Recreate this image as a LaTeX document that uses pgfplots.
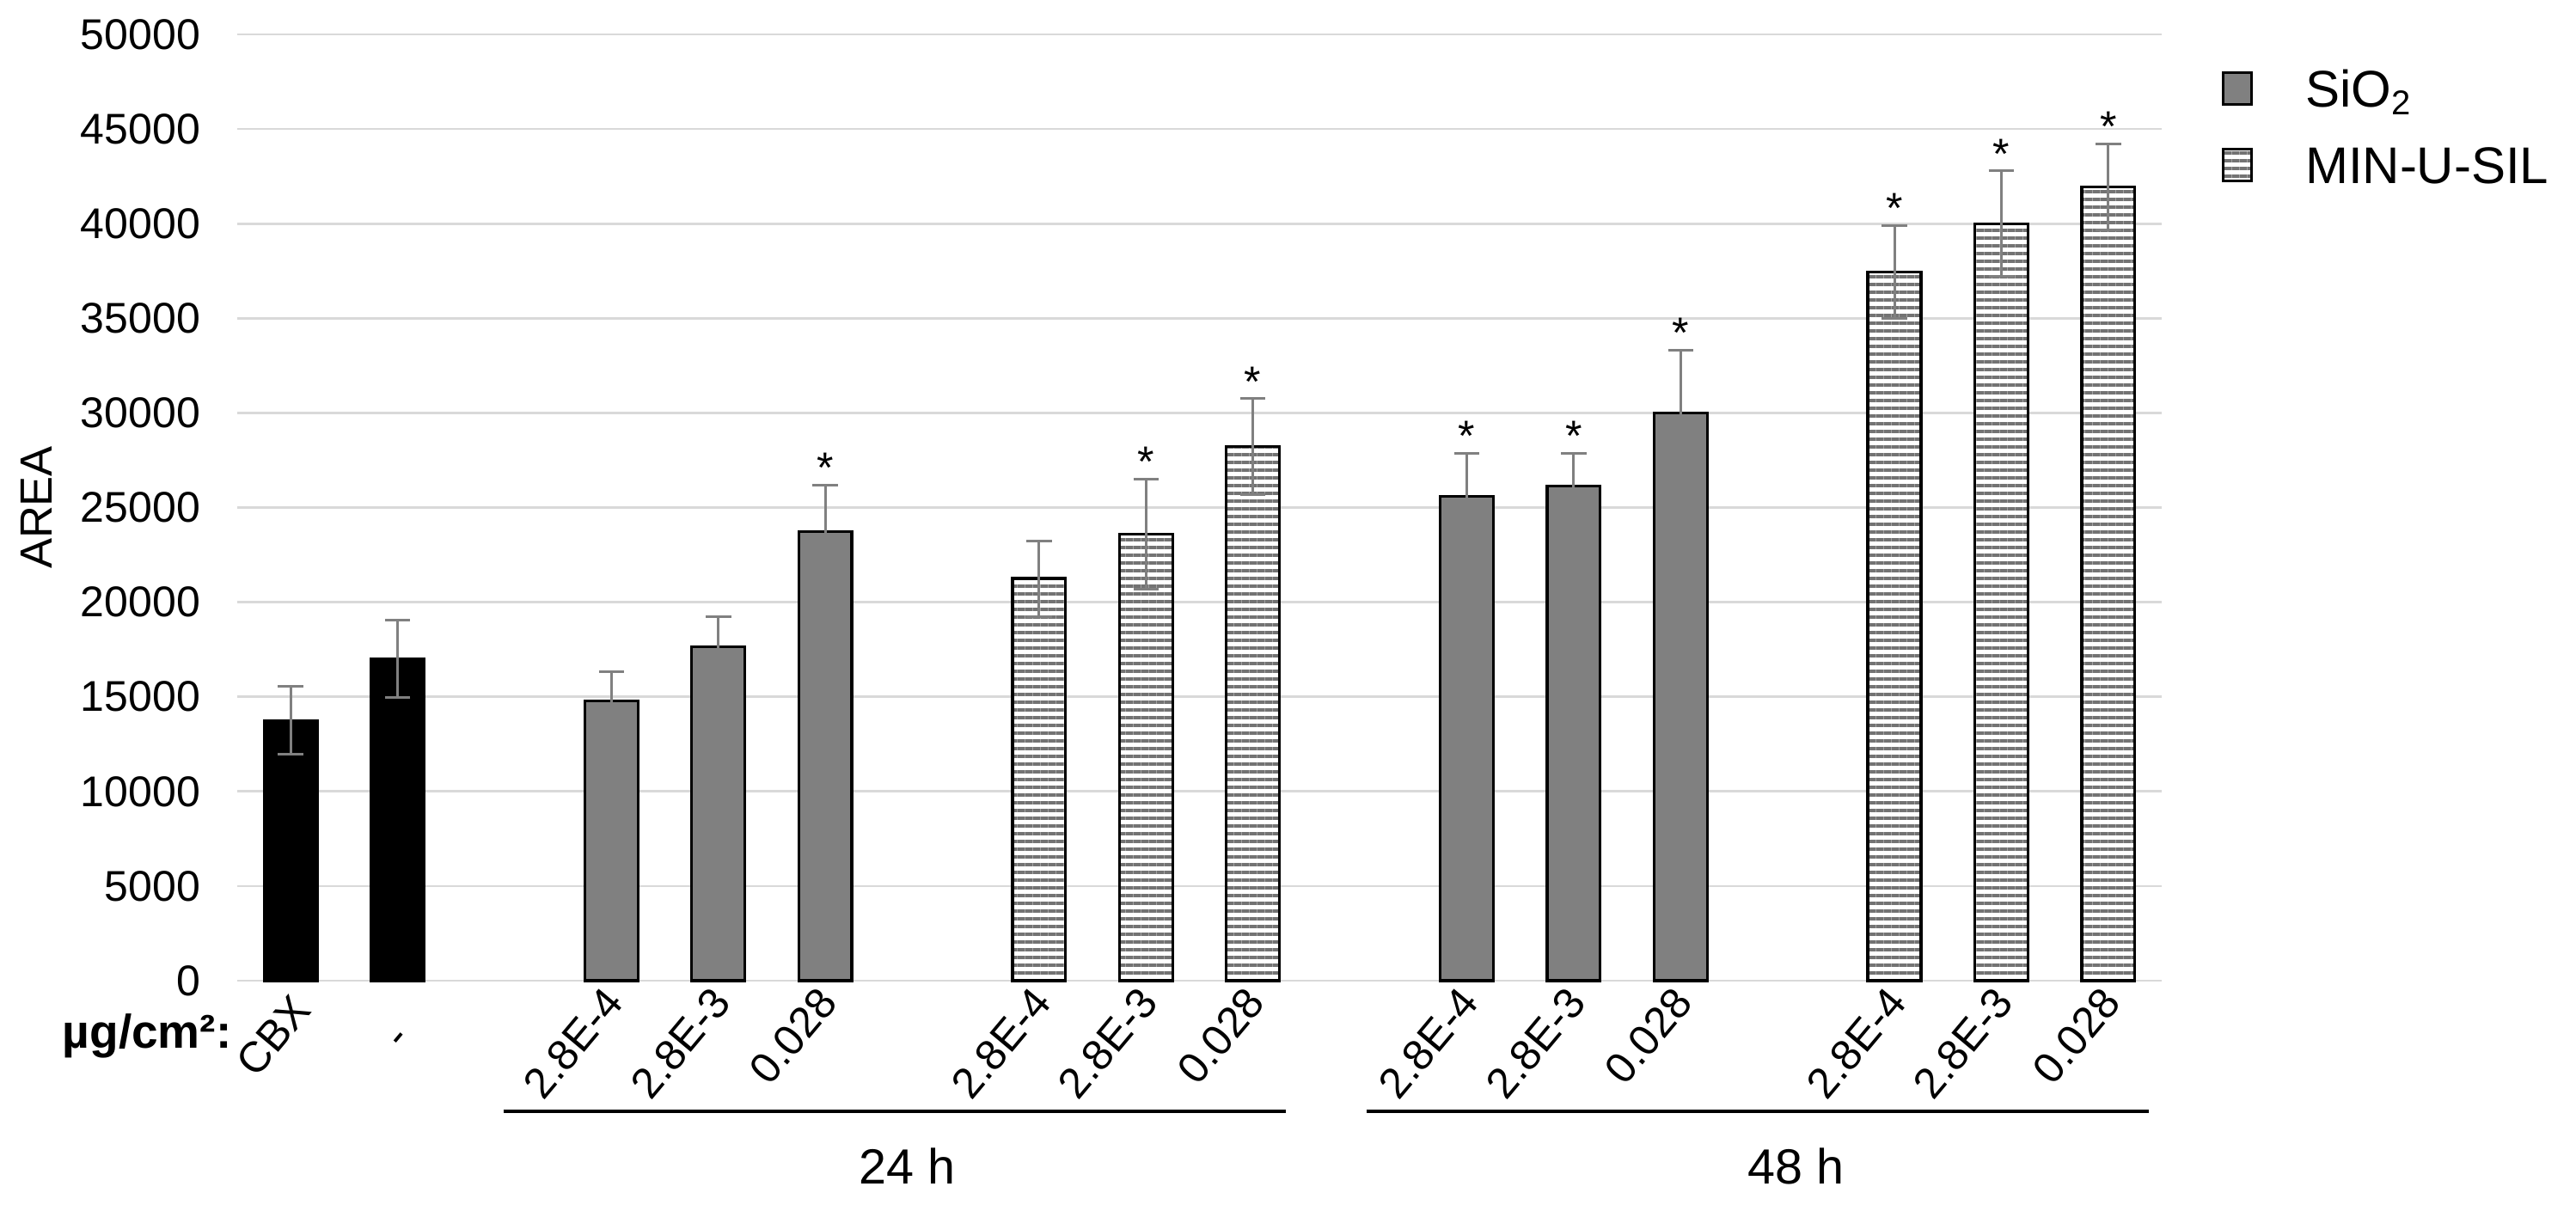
\documentclass[border=0pt]{standalone}
\usepackage{fontspec}
\setmainfont{Liberation Sans}
\usepackage{pgfplots}
\pgfplotsset{compat=1.18}
\usetikzlibrary{patterns.meta}

\definecolor{gridc}{RGB}{217,217,217}
\definecolor{barg}{RGB}{128,128,128}
\definecolor{stripec}{RGB}{115,115,115}
\definecolor{errc}{RGB}{128,128,128}

\pgfplotsset{
  myleg/.style={legend image code/.code={\draw[##1] (0pt,-3.67pt) rectangle (6.54pt,3.67pt);}},
  errs/.style={error bars/.cd, y dir=both, y explicit,
     error bar style={line width=0.6pt, draw=errc},
     error mark options={rotate=90, mark size=2.95pt, line width=0.6pt, draw=errc}},
}

\begin{document}
\begin{tikzpicture}
\begin{axis}[
  at={(0pt,0pt)}, anchor=south west,
  scale only axis, width=447.8pt, height=220.2pt,
  xmin=-0.5, xmax=17.5, ymin=0, ymax=50000,
  ytick={0,5000,10000,15000,20000,25000,30000,35000,40000,45000,50000},
  xtick={0,1,3,4,5,7,8,9,11,12,13,15,16,17},
  xticklabels={{\raisebox{-2.6pt}{CBX}},{\raisebox{-5.5pt}{-}\hspace*{6.27pt}},2.8E-4,2.8E-3,0.028,2.8E-4,2.8E-3,0.028,2.8E-4,2.8E-3,0.028,2.8E-4,2.8E-3,0.028},
  ymajorgrids, major grid style={draw=gridc, line width=0.55pt},
  axis line style={draw=none},
  major tick length=0pt, tick style={draw=none},
  scaled y ticks=false,
  /pgf/number format/assume math mode=true,
  /pgf/number format/1000 sep={},
  yticklabel style={font=\fontsize{10}{12}\selectfont, anchor=east, inner sep=0pt, xshift=-8.4pt},
  xticklabel style={font=\fontsize{10}{12}\selectfont, text height=7.2pt, text depth=0pt, inner sep=0pt, xshift=0.6pt, yshift=-3pt, rotate=50, anchor=east},
  ylabel={AREA},
  every axis y label/.style={at={(rel axis cs:0,0.5)}, xshift=-46.8pt, rotate=90, anchor=center, font=\fontsize{10.5}{12}\selectfont},
  clip=false,
  legend style={at={(rel axis cs:1,1)}, anchor=north west, xshift=13.8pt, yshift=-8.1pt,
     draw=none, fill=none, inner sep=0pt, row sep=9.2pt, column sep=12.2pt,
     font=\fontsize{12}{14}\selectfont,
     nodes={inner sep=0pt, text height=8.6pt, text depth=0pt}, cells={anchor=west}},
]

% control bars
\addplot[ybar, bar shift=0pt, bar width=0.497, fill=black, draw=black, line width=0.66pt, forget plot, errs]
coordinates {(0,13750) +- (0,1790) (1,17000) +- (0,2035)};

% SiO2
\addplot[ybar, bar shift=0pt, bar width=0.497, fill=barg, draw=black, line width=0.66pt, myleg, errs]
coordinates {(3,14770) +- (0,1570) (4,17640) +- (0,1590) (5,23740) +- (0,2460)
 (11,25600) +- (0,2280) (12,26120) +- (0,1760) (13,30010) +- (0,3320)};
\addlegendentry{SiO\textsubscript{2}}

% MIN-U-SIL
\addplot[ybar, bar shift=0pt, bar width=0.497, preaction={fill=white},
  pattern={Lines[angle=0,distance=1.8pt,line width=0.72pt]}, pattern color=stripec,
  draw=black, line width=0.66pt, myleg, errs]
coordinates {(7,21250) +- (0,2000) (8,23600) +- (0,2920) (9,28220) +- (0,2540)
 (15,37450) +- (0,2450) (16,40000) +- (0,2800) (17,41940) +- (0,2270)};
\addlegendentry{MIN-U-SIL}

% significance stars
\addplot[draw=none, mark=none, forget plot, nodes near coords={*},
  every node near coord/.style={anchor=base, inner sep=0pt, font=\fontsize{10}{12}\selectfont, yshift=0.5pt, text=black}]
coordinates {(5,26200) (8,26520) (9,30760) (11,27880) (12,27880) (13,33330) (15,39900) (16,42800) (17,44210)};

% group brackets
\draw[line width=0.66pt] (axis cs:1.99,-6903) -- (axis cs:9.31,-6903);
\draw[line width=0.66pt] (axis cs:10.06,-6903) -- (axis cs:17.38,-6903);
\node[font=\fontsize{11.5}{13}\selectfont, inner sep=0pt] at (axis cs:5.77,-9809) {24 h};
\node[font=\fontsize{11.5}{13}\selectfont, inner sep=0pt] at (axis cs:14.08,-9809) {48 h};
\node[anchor=base east, inner sep=0pt, font=\bfseries\fontsize{11}{13}\selectfont] at ([xshift=-1.1pt,yshift=-15.8pt]rel axis cs:0,0) {µg/cm²:};
\end{axis}
\pgfresetboundingbox
\path[use as bounding box] (-55.2pt,-52.2pt) rectangle (544.2pt,228.2pt);
\end{tikzpicture}
\end{document}
